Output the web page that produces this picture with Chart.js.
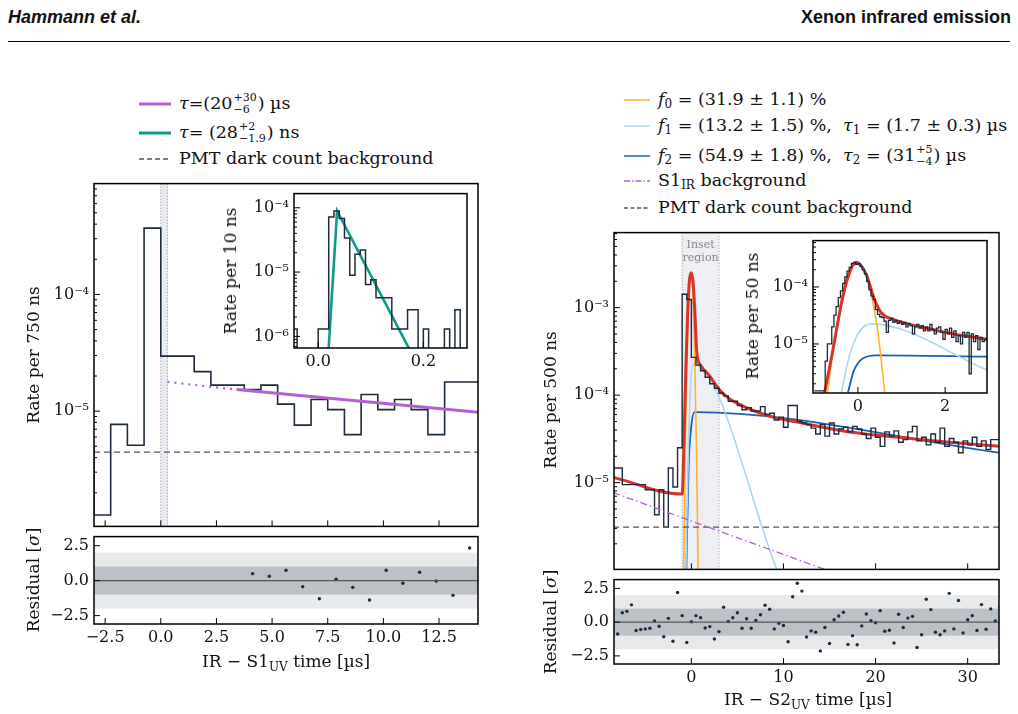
<!DOCTYPE html>
<html>
<head>
<meta charset="utf-8">
<script src="https://cdn.jsdelivr.net/npm/chart.js@4.4.1/dist/chart.umd.min.js"></script>
<style>
  body { margin: 0; width: 1018px; height: 714px; background: #fff; position: relative; overflow: hidden; font-family: "DejaVu Serif", serif; }
  canvas { position: absolute; }
  .t { position: absolute; white-space: nowrap; color: #111; }
  .hdr { font-family: "Liberation Sans", Arial, sans-serif; font-weight: bold; font-size: 18px; top: 7px; }
  .leg { font-size: 17.5px; line-height: 1; display: flex; align-items: center; }
  .leg svg { margin-right: 8px; }
  .rot { transform: translate(-50%, -50%) rotate(-90deg); font-size: 17px; }
  .xl { transform: translateX(-50%); font-size: 17px; }
  .ss { display: inline-flex; flex-direction: column; font-size: 11px; line-height: 1.05; vertical-align: middle; margin: 0 1px; }
  sub { font-size: 12px; position: relative; top: 4px; vertical-align: baseline; }
</style>
</head>
<body>
<div class="t hdr" style="left:8px;font-style:italic">Hammann et al.</div>
<div class="t hdr" style="right:7px">Xenon infrared emission</div>
<div style="position:absolute;left:8px;right:8px;top:41px;border-top:1px solid #000"></div>

<!-- left legend -->
<div class="t leg" style="left:139px;top:92px"><svg width="32" height="6"><line x1="0" y1="3" x2="32" y2="3" stroke="#b45fd6" stroke-width="3"/></svg><i>τ</i>=(20<span class="ss"><span>+30</span><span>−6</span></span>) µs</div>
<div class="t leg" style="left:139px;top:121px"><svg width="32" height="6"><line x1="0" y1="3" x2="32" y2="3" stroke="#0f9a8a" stroke-width="3"/></svg><i>τ</i> = (28<span class="ss"><span>+2</span><span>−1.9</span></span>) ns</div>
<div class="t leg" style="left:139px;top:150px"><svg width="32" height="6"><line x1="0" y1="3" x2="32" y2="3" stroke="#555" stroke-width="1.5" stroke-dasharray="5,3"/></svg>PMT dark count background</div>

<!-- right legend -->
<div class="t leg" style="left:624px;top:91px"><svg width="26" height="6"><line x1="0" y1="3" x2="26" y2="3" stroke="#ffb330" stroke-width="1.5"/></svg><i>f</i><sub>0</sub>&nbsp;= (31.9 ± 1.1) %</div>
<div class="t leg" style="left:624px;top:117px"><svg width="26" height="6"><line x1="0" y1="3" x2="26" y2="3" stroke="#a6d8f0" stroke-width="1.5"/></svg><i>f</i><sub>1</sub>&nbsp;= (13.2 ± 1.5) %,&nbsp;&nbsp;<i>τ</i><sub>1</sub>&nbsp;= (1.7 ± 0.3) µs</div>
<div class="t leg" style="left:624px;top:144px"><svg width="26" height="6"><line x1="0" y1="3" x2="26" y2="3" stroke="#1a5fb4" stroke-width="1.5"/></svg><i>f</i><sub>2</sub>&nbsp;= (54.9 ± 1.8) %,&nbsp;&nbsp;<i>τ</i><sub>2</sub>&nbsp;= (31<span class="ss"><span>+5</span><span>−4</span></span>) µs</div>
<div class="t leg" style="left:624px;top:172px"><svg width="26" height="6"><line x1="0" y1="3" x2="26" y2="3" stroke="#b45fd6" stroke-width="1.5" stroke-dasharray="6,2,1.5,2"/></svg>S1<sub>IR</sub>&nbsp;background</div>
<div class="t leg" style="left:624px;top:199px"><svg width="26" height="6"><line x1="0" y1="3" x2="26" y2="3" stroke="#555" stroke-width="1.5" stroke-dasharray="4,2.5"/></svg>PMT dark count background</div>

<canvas id="lMain" width="462" height="353"></canvas>
<canvas id="lRes" width="462" height="127"></canvas>
<canvas id="lInset" width="251" height="188"></canvas>
<canvas id="rMain" width="463" height="349"></canvas>
<canvas id="rRes" width="463" height="124"></canvas>
<canvas id="rInset" width="252" height="186"></canvas>

<div class="t rot" style="left:33px;top:355px">Rate per 750 ns</div>
<div class="t rot" style="left:33px;top:580px">Residual [<i>σ</i>]</div>
<div class="t rot" style="left:230px;top:271px">Rate per 10 ns</div>
<div class="t xl" style="left:286px;top:651px">IR − S1<sub>UV</sub> time [µs]</div>
<div class="t rot" style="left:550px;top:400px">Rate per 500 ns</div>
<div class="t rot" style="left:550px;top:622px">Residual [<i>σ</i>]</div>
<div class="t rot" style="left:752px;top:316px">Rate per 50 ns</div>
<div class="t xl" style="left:808px;top:689px">IR − S2<sub>UV</sub> time [µs]</div>

<script>
// ---- left panel: IR - S1 ----
const s1Start = -3.0, s1Width = 0.75;
const s1Rates = [5.1e-6, 1.29e-6, 7.7e-6, 5.1e-6, 3.7e-4, 2.96e-5, 2.96e-5, 2.18e-5, 1.67e-5, 1.67e-5,
  1.53e-5, 1.67e-5, 1.15e-5, 7.6e-6, 1.26e-5, 1.03e-5, 6.3e-6, 1.39e-5, 1.03e-5, 1.26e-5, 1.03e-5, 6.3e-6, 1.78e-5];
const s1FitDotted = [[0.3, 1.78e-5], [3.4, 1.53e-5]];
const s1FitSolid = [[3.4, 1.53e-5], [14.25, 9.8e-6]];
const s1Dark = 4.45e-6;
const s1ResX = [4.125, 4.875, 5.625, 6.375, 7.125, 7.875, 8.625, 9.375, 10.125, 10.875, 11.625, 12.375, 13.125, 13.875];
const s1ResY = [0.5, 0.31, 0.74, -0.43, -1.29, 0.1, -0.48, -1.38, 0.74, -0.19, 0.6, -0.02, -1.05, 2.33];
const s1XTicks = [-2.5, 0, 2.5, 5, 7.5, 10, 12.5];

const s1InStart = -0.05, s1InWidth = 0.01;
const s1InRates = [0, 1.3e-6, 0, 0, 0, 0, 1.3e-6, 1.3e-6, 7.2e-5, 8.9e-5, 6.8e-5, 3.4e-5, 8.9e-6, 1.9e-5, 2.2e-5,
  6.4e-6, 7.6e-6, 4.0e-6, 4.0e-6, 4.0e-6, 1.3e-6, 1.3e-6, 1.3e-6, 2.6e-6, 2.6e-6, 0, 1.3e-6, 0, 0, 0, 1.3e-6, 0, 2.6e-6, 0];
const s1InFit = [[0.019, 5e-7], [0.036, 8.9e-5], [0.18, 5e-7]];
const s1InXTicks = [0, 0.2];

// ---- right panel: IR - S2 ----
const s2Start = -8.5, s2Width = 0.5;
const s2Rates = [1.36e-5, 1.47e-5, 1.47e-5, 9.5e-6, 9.5e-6, 9.5e-6, 9.5e-6, 9.5e-6, 8.3e-6, 8.3e-6, 4.3e-6, 8.3e-6, 3.1e-6, 1.47e-5, 8.9e-6,
  2.5e-5, 1.42e-3, 1.24e-3,
  2.7e-4, 2.2e-4, 1.9e-4, 1.6e-4, 1.35e-4, 1.2e-4, 1.05e-4, 9.8e-5, 8.5e-5, 8.5e-5, 7.6e-5, 6.8e-5, 7.2e-5, 6.6e-5, 6.6e-5, 7.4e-5,
  6.0e-5, 6.2e-5, 5.2e-5, 5.6e-5, 4.3e-5, 7.6e-5, 7.6e-5, 5.0e-5, 4.8e-5, 4.6e-5, 4.2e-5, 3.6e-5, 4.6e-5, 3.4e-5, 4.8e-5, 3.6e-5,
  4.1e-5, 4.3e-5, 3.8e-5, 4.4e-5, 4.1e-5, 3.6e-5, 3.2e-5, 4.2e-5, 3.3e-5, 2.6e-5, 3.8e-5, 3.4e-5, 3.9e-5, 2.9e-5, 3.1e-5, 3.8e-5,
  4.4e-5, 3.0e-5, 3.3e-5, 2.7e-5, 3.6e-5, 2.9e-5, 4.2e-5, 2.6e-5, 3.2e-5, 2.9e-5, 2.2e-5, 3.0e-5, 2.7e-5, 3.3e-5, 2.6e-5, 3.0e-5,
  2.4e-5, 3.1e-5];
const s2Total = [[-8.5, 1.15e-5], [-1.0, 7.4e-6], [-0.8, 3e-5], [-0.6, 2e-4], [-0.4, 9e-4], [-0.2, 2.1e-3], [0, 2.5e-3], [0.2, 1.9e-3],
  [0.4, 8e-4], [0.6, 3e-4], [1.0, 2.2e-4], [2, 1.65e-4], [3, 1.17e-4], [4, 9.3e-5], [5.6, 7.5e-5], [7, 6.5e-5], [9.2, 5.5e-5],
  [12, 4.8e-5], [16.5, 3.9e-5], [20, 3.5e-5], [23.8, 3.2e-5], [28, 2.9e-5], [33.5, 2.6e-5]];
const s2F0 = [[-0.85, 8e-7], [-0.65, 2.7e-5], [-0.45, 3.2e-4], [-0.25, 1.46e-3], [-0.05, 2.4e-3], [0.15, 1.46e-3], [0.35, 3.2e-4], [0.55, 2.7e-5], [0.75, 8e-7]];
const s2F1 = [[-0.6, 1e-6], [-0.3, 3e-5], [-0.05, 1.5e-4], [0.2, 2.25e-4], [9.3, 1e-6], [10, 6.5e-7]];
const s2F2 = [[-0.55, 1e-6], [-0.3, 1.5e-5], [0, 4.5e-5], [0.35, 6.4e-5], [33.5, 2.2e-5]];
const s2Bkg = [[-8.5, 7.7e-6], [14.7, 1e-6], [16, 8.2e-7]];
const s2Dark = 3.1e-6;
const s2ResY = [-0.88, 0.7, 0.8, 1.28, -0.62, -0.55, -0.5, -0.45, 0.08, -0.3, -1.08, 0.28, -1.42, 2.2, 0.48, -1.5, 0.03, 0.48,
  0.33, -0.43, -0.33, -1.25, -0.7, 1.1, 0.05, 0.33, 0.7, -0.45, 0.25, -0.45, 0.13, 0.55, 1.25, 0.95, -0.5, -0.08, -0.25, -1.45,
  1.88, 2.88, 2.3, -1.1, -0.65, -0.75, -2.13, -0.4, -1.58, 0.18, 0.45, 0.73, -1.65, -1.0, -1.68, -0.28, 0.6, 0.1, -0.05, 0.85,
  -0.68, -0.6, -1.55, 0.58, -0.4, 0.3, 0.43, -1.88, -0.93, 1.7, 0.93, -0.75, -0.93, -0.65, 2.13, -0.5, 1.6, -0.8, 0.18, 0.48,
  -0.62, 1.3, -0.53, 0.98, 0.08, 1.13];
const s2ResStart = -8.0, s2ResStep = 0.5;
const s2XTicks = [0, 10, 20, 30];

const s2InStart = -1.0, s2InWidth = 0.05;
const s2InRates = [1.5e-6, 1.5e-6, 1.5e-6, 1.5e-6, 1.5e-6, 1.5e-6, 5e-6, 1.0e-5, 1.0e-5, 2.0e-5, 3.2e-5, 4.5e-5, 6.5e-5, 8.5e-5,
  1.15e-4, 1.5e-4, 1.9e-4, 2.2e-4, 2.6e-4, 2.7e-4, 2.5e-4, 2.55e-4, 2.3e-4, 2.0e-4, 1.7e-4, 1.25e-4, 9e-5, 7e-5, 6e-5, 4.0e-5,
  3.3e-5, 3.0e-5, 2.9e-5, 2.5e-5, 1.6e-5, 2.6e-5, 2.8e-5, 2.4e-5, 2.6e-5, 2.3e-5, 2.5e-5, 2.2e-5, 2.4e-5, 2.0e-5, 2.3e-5, 2.1e-5,
  1.5e-5, 2.0e-5, 2.2e-5, 1.9e-5, 2.1e-5, 1.7e-5, 2.0e-5, 1.7e-5, 2.2e-5, 1.8e-5, 1.5e-5, 1.9e-5, 2.0e-5, 1.6e-5, 1.2e-5, 1.8e-5,
  1.5e-5, 1.9e-5, 1.3e-5, 1.7e-5, 1.1e-5, 1.4e-5, 1.0e-5, 1.6e-5, 1.3e-5, 1.6e-5, 3e-6, 1.5e-5, 1.1e-5, 1.4e-5, 8e-6, 1.3e-5,
  1.1e-5, 1.2e-5];
const s2InTotal = [[-0.8, 1.0e-6], [-0.58, 7.4e-6], [-0.35, 6.5e-5], [-0.2, 1.7e-4], [-0.04, 2.7e-4], [0.19, 1.66e-4], [0.38, 6e-5],
  [0.54, 3.5e-5], [0.81, 2.7e-5], [1.42, 2.0e-5], [2.1, 1.55e-5], [3.0, 1.19e-5]];
const s2InF0 = [[-0.7, 1.3e-6], [-0.5, 1.8e-5], [-0.3, 1.1e-4], [-0.15, 2.2e-4], [-0.04, 2.5e-4], [0.1, 2.1e-4], [0.25, 1.1e-4], [0.45, 1.8e-5], [0.62, 1.3e-6]];
const s2InF1 = [[-0.38, 1.4e-6], [-0.2, 6e-6], [0, 1.5e-5], [0.31, 2.25e-5], [3.0, 3.4e-6]];
const s2InF2 = [[-0.23, 1.4e-6], [-0.1, 3.3e-6], [0, 4.6e-6], [0.1, 5.5e-6], [0.42, 6.3e-6], [3.0, 6.0e-6]];
const s2InXTicks = [0, 2];

const resYTicks = [-2.5, 0, 2.5];

// ---- colours ----
const C = { hist: '#1c2b3c', purple: '#b45fd6', teal: '#0f9a8a', red: '#d9342b', orange: '#ffb330', lblue: '#a6d8f0', dblue: '#1a5fb4', gray: '#555' };
const FONT = { family: 'DejaVu Serif', size: 16 };

const SUP = { '-': '⁻', '0': '⁰', '1': '¹', '2': '²', '3': '³', '4': '⁴', '5': '⁵', '6': '⁶', '7': '⁷', '8': '⁸', '9': '⁹' };
const decadeLabel = v => '10' + String(Math.round(Math.log10(v))).split('').map(c => SUP[c]).join('');
const numLabel = d => v => (v < 0 ? '−' : '') + Math.abs(v).toFixed(d);

// empty bins sit below the log axis
const FLOOR = 1e-9;
const hist = (start, width, vals) => {
  const pts = vals.map((v, i) => ({ x: start + i * width, y: v > 0 ? v : FLOOR }));
  pts.push({ x: start + vals.length * width, y: pts[pts.length - 1].y });
  return pts;
};
const pts = arr => arr.map(([x, y]) => ({ x, y }));
const hline = (x0, x1, y) => [{ x: x0, y }, { x: x1, y }];

// inward ticks + frame + bands
const frameTicks = {
  id: 'frameTicks',
  beforeDatasetsDraw(chart, args, o) {
    const { ctx, chartArea: a, scales: { x, y } } = chart;
    ctx.save();
    if (o.white) { ctx.fillStyle = '#fff'; ctx.fillRect(a.left, a.top, a.width, a.height); }
    ctx.beginPath(); ctx.rect(a.left, a.top, a.width, a.height); ctx.clip();
    (o.yBands || []).forEach(([lo, hi, col]) => {
      const p0 = y.getPixelForValue(hi), p1 = y.getPixelForValue(lo);
      ctx.fillStyle = col; ctx.fillRect(a.left, p0, a.width, p1 - p0);
    });
    (o.xBands || []).forEach(([lo, hi, col]) => {
      const p0 = x.getPixelForValue(lo), p1 = x.getPixelForValue(hi);
      ctx.fillStyle = col; ctx.fillRect(p0, a.top, p1 - p0, a.height);
      ctx.strokeStyle = '#999'; ctx.lineWidth = 0.8; ctx.setLineDash([1.5, 1.5]);
      [p0, p1].forEach(p => { ctx.beginPath(); ctx.moveTo(p, a.top); ctx.lineTo(p, a.bottom); ctx.stroke(); });
      ctx.setLineDash([]);
      if (o.bandText) {
        ctx.fillStyle = '#888'; ctx.font = '11px "DejaVu Serif"'; ctx.textAlign = 'center';
        o.bandText.forEach((t, i) => ctx.fillText(t, (p0 + p1) / 2, a.top + 15 + i * 13));
      }
    });
    ctx.restore();
  },
  afterDraw(chart) {
    const { ctx, chartArea: a, scales: { x, y } } = chart;
    ctx.save(); ctx.strokeStyle = '#000'; ctx.lineWidth = 1;
    const tick = (x0, y0, x1, y1) => { ctx.beginPath(); ctx.moveTo(x0, y0); ctx.lineTo(x1, y1); ctx.stroke(); };
    x.ticks.forEach(t => { const p = x.getPixelForValue(t.value); tick(p, a.bottom, p, a.bottom - 6); });
    if (y.type === 'logarithmic') {
      for (let e = Math.floor(Math.log10(y.min)); e <= Math.ceil(Math.log10(y.max)); e++) {
        for (let m = 1; m <= 9; m++) {
          const v = m * Math.pow(10, e);
          if (v < y.min || v > y.max) continue;
          const p = y.getPixelForValue(v); tick(a.left, p, a.left + (m === 1 ? 6 : 3), p);
        }
      }
    } else {
      y.ticks.forEach(t => { const p = y.getPixelForValue(t.value); tick(a.left, p, a.left + 6, p); });
    }
    ctx.lineWidth = 1.5; ctx.strokeRect(a.left, a.top, a.width, a.height);
    ctx.restore();
  }
};
Chart.register(frameTicks);

const fixedTicks = list => s => { s.ticks = list.map(v => ({ value: v })); };
const decadeTicks = s => {
  const out = [];
  for (let e = Math.ceil(Math.log10(s.min) - 1e-9); e <= Math.floor(Math.log10(s.max) + 1e-9); e++) out.push({ value: Math.pow(10, e) });
  s.ticks = out;
};

function config({ xmin, xmax, xticks, xdec, ymin, ymax, log, yticks, showX, yW, xH, datasets, deco }) {
  return {
    type: 'line',
    data: { datasets },
    options: {
      responsive: false, animation: false,
      layout: { padding: { top: 8, right: 8, left: 0, bottom: 0 } },
      elements: { point: { radius: 0 }, line: { tension: 0 } },
      plugins: { legend: { display: false }, tooltip: { enabled: false }, frameTicks: deco || {} },
      scales: {
        x: {
          type: 'linear', min: xmin, max: xmax,
          grid: { display: false, drawTicks: false }, border: { display: false },
          ticks: { display: showX, autoSkip: false, maxRotation: 0, padding: 4, color: '#111', font: FONT, callback: numLabel(xdec) },
          afterBuildTicks: fixedTicks(xticks),
          afterFit: s => { s.height = xH; }
        },
        y: {
          type: log ? 'logarithmic' : 'linear', min: ymin, max: ymax,
          grid: { display: false, drawTicks: false }, border: { display: false },
          ticks: { autoSkip: false, padding: 5, color: '#111', font: FONT, callback: log ? decadeLabel : numLabel(1) },
          afterBuildTicks: log ? decadeTicks : fixedTicks(yticks),
          afterFit: s => { s.width = yW; }
        }
      }
    }
  };
}

// build, then size and place the canvas so the plot frame lands on [L, T, R, B]
function makeChart(id, frame, cfg) {
  const [L, T, R, B] = frame;
  const el = document.getElementById(id);
  let chart = new Chart(el, config(cfg));
  let a = chart.chartArea;
  const dw = (R - L) - (a.right - a.left), dh = (B - T) - (a.bottom - a.top);
  chart.destroy();
  el.width = el.width + Math.round(dw); el.height = el.height + Math.round(dh);
  chart = new Chart(el, config(cfg));
  a = chart.chartArea;
  el.style.left = (L - a.left) + 'px';
  el.style.top = (T - a.top) + 'px';
  return chart;
}

const line = (data, color, width, dash, extra) => Object.assign({ data, borderColor: color, borderWidth: width, borderDash: dash || [], fill: false }, extra || {});
const histSet = (data, w) => ({ data, borderColor: C.hist, borderWidth: w || 1.6, stepped: 'after', fill: false });
const smooth = { cubicInterpolationMode: 'monotone' };

makeChart('lMain', [94, 184, 478, 527], {
  xmin: -3.0, xmax: 14.25, xticks: s1XTicks, xdec: 1, ymin: 1.03e-6, ymax: 8.9e-4, log: true, showX: false, yW: 70, xH: 2,
  deco: { xBands: [[0, 0.3, 'rgba(205,210,225,0.45)']] },
  datasets: [
    line(pts(s1FitDotted), C.purple, 2.2, [2, 5]),
    line(pts(s1FitSolid), C.purple, 3),
    line(hline(-3.0, 14.25, s1Dark), C.gray, 1.3, [6, 4]),
    histSet(hist(s1Start, s1Width, s1Rates))
  ]
});
makeChart('lInset', [294, 194, 467, 348], {
  xmin: -0.046, xmax: 0.283, xticks: s1InXTicks, xdec: 1, ymin: 6.6e-7, ymax: 1.66e-4, log: true, showX: true, yW: 70, xH: 26,
  deco: { white: true },
  datasets: [
    histSet(hist(s1InStart, s1InWidth, s1InRates), 1.5),
    line(pts(s1InFit), C.teal, 2.6)
  ]
});
makeChart('lRes', [94, 537, 478, 624], {
  xmin: -3.0, xmax: 14.25, xticks: s1XTicks, xdec: 1, ymin: -3.1, ymax: 3.15, yticks: resYTicks, log: false, showX: true, yW: 70, xH: 30,
  deco: { yBands: [[-2, 2, '#e8e9eb'], [-1, 1, '#bcc0c7']] },
  datasets: [
    line(hline(-3.0, 14.25, 0), '#555', 1.3),
    { type: 'scatter', data: s1ResX.map((x, i) => ({ x, y: s1ResY[i] })), pointRadius: 1.7, pointBackgroundColor: C.hist, pointBorderWidth: 0, showLine: false }
  ]
});

makeChart('rMain', [614, 233, 999, 570], {
  xmin: -8.4, xmax: 33.4, xticks: s2XTicks, xdec: 0, ymin: 1.02e-6, ymax: 7.2e-3, log: true, showX: false, yW: 70, xH: 2,
  deco: { xBands: [[-1, 3, 'rgba(215,220,232,0.45)']], bandText: ['Inset', 'region'] },
  datasets: [
    line(pts(s2Bkg), C.purple, 1.3, [7, 3, 1.5, 3]),
    line(hline(-8.5, 33.5, s2Dark), C.gray, 1.3, [6, 4]),
    histSet(hist(s2Start, s2Width, s2Rates), 1.4),
    line(pts(s2Total), C.red, 3, null, smooth),
    line(pts(s2F0), C.orange, 1.6, null, smooth),
    line(pts(s2F1), C.lblue, 1.6, null, smooth),
    line(pts(s2F2), C.dblue, 1.8, null, smooth)
  ]
});
makeChart('rInset', [813, 241, 987, 393], {
  xmin: -1.03, xmax: 2.96, xticks: s2InXTicks, xdec: 0, ymin: 1.38e-6, ymax: 6.5e-4, log: true, showX: true, yW: 70, xH: 26,
  deco: { white: true },
  datasets: [
    histSet(hist(s2InStart, s2InWidth, s2InRates), 1.3),
    line(pts(s2InTotal), C.red, 3, null, smooth),
    line(pts(s2InF0), C.orange, 1.6, null, smooth),
    line(pts(s2InF1), C.lblue, 1.6, null, smooth),
    line(pts(s2InF2), C.dblue, 1.8, null, smooth)
  ]
});
makeChart('rRes', [614, 580, 999, 664], {
  xmin: -8.4, xmax: 33.4, xticks: s2XTicks, xdec: 0, ymin: -3.1, ymax: 3.15, yticks: resYTicks, log: false, showX: true, yW: 70, xH: 30,
  deco: { yBands: [[-2, 2, '#e8e9eb'], [-1, 1, '#bcc0c7']] },
  datasets: [
    line(hline(-8.5, 33.5, 0), '#555', 1.3),
    { type: 'scatter', data: s2ResY.map((y, i) => ({ x: s2ResStart + i * s2ResStep, y })), pointRadius: 1.7, pointBackgroundColor: C.hist, pointBorderWidth: 0, showLine: false }
  ]
});
</script>
</body>
</html>
